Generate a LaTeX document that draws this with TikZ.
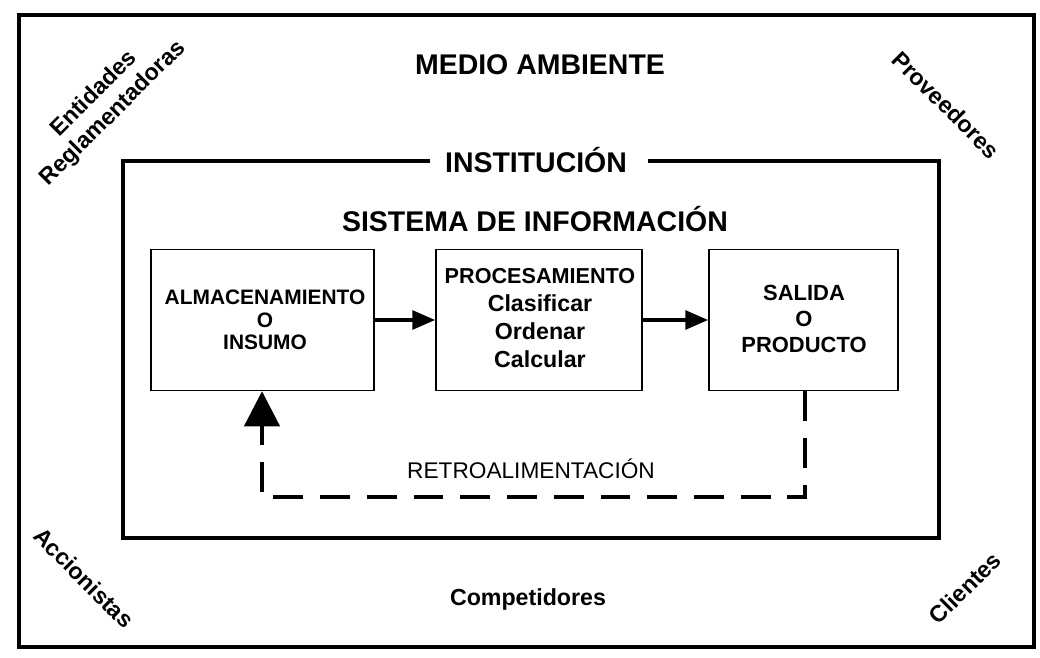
\documentclass[tikz,border=0pt]{standalone}
\usepackage{fontspec}
\setmainfont{Liberation Sans}
\usetikzlibrary{arrows.meta}
\begin{document}
\begin{tikzpicture}[x=0.02cm,y=-0.02cm,
  thickline/.style={line width=2.3pt},
  boxst/.style={draw,line width=0.8pt,minimum width=223*0.02cm,minimum height=141*0.02cm,align=center,inner sep=0pt},
  heading/.style={font=\fontsize{16.2}{19}\selectfont\bfseries},
  corner/.style={font=\fontsize{13.2}{15.3}\selectfont\bfseries,align=center},
  flow/.style={line width=2.3pt,-{Triangle[length=13pt,width=10.5pt]}},
  fb/.style={line width=2.3pt,dash pattern=on 17pt off 9.6pt,-{Triangle[length=20pt,width=20pt]}}
]
\useasboundingbox (0,0) rectangle (1040,658);
\fill[white] (0,0) rectangle (1040,658);
% outer frame
\draw[thickline] (19,15) rectangle (1034,647);
\node[heading] (medio) at (540,65) {MEDIO AMBIENTE};
% institution frame
\node[heading] (inst) at (536,160) {INSTITUCIÓN};
\coordinate (il) at (430,161);
\coordinate (ir) at (648,161);
\draw[thickline,line join=miter] (il) -- (123,161) -- (123,538) -- (939,538) -- (939,161) -- (ir);
\node[heading] (sist) at (535,219) {SISTEMA DE INFORMACIÓN};
% boxes
\node[boxst,minimum width=223*0.02cm] (alm) at (262.5,320) {};
\node[font=\fontsize{11.9}{12.7}\selectfont\bfseries,align=center] (almt) at (265,320) {ALMACENAMIENTO\\O\\INSUMO};
\node[boxst,minimum width=206*0.02cm] (proc) at (539,320) {};
\node[align=center,font=\fontsize{13.2}{15.8}\selectfont\bfseries] (proct) at (540,318) {{\fontsize{12.3}{15.8}\selectfont PROCESAMIENTO}\\Clasificar\\Ordenar\\Calcular};
\node[boxst,minimum width=189*0.02cm] (sal) at (803.5,320) {};
\node[font=\fontsize{12.5}{14.8}\selectfont\bfseries,align=center] (salt) at (804,319) {SALIDA\\O\\PRODUCTO};
% flow arrows
\draw[flow] (alm.east) -- (proc.west);
\draw[flow] (proc.east) -- (sal.west);
% feedback
\coordinate (fb1) at (805,497);
\coordinate (fb2) at (262,497);
\draw[fb] (sal.south -| 805,0) -- (fb1) -- (fb2) -- (alm.south -| 262,0);
\node[font=\fontsize{12.9}{15}\selectfont] (retro) at (531,469) {RETROALIMENTACIÓN};
% corner labels
\node[corner,rotate=45] (ent) at (104,104) {Entidades\\Reglamentadoras};
\node[corner,rotate=-45] (prov) at (946,105) {Proveedores};
\node[corner,rotate=-45] (acc) at (84,578) {Accionistas};
\node[corner,rotate=45] (cli) at (965,588) {Clientes};
\node[corner] (comp) at (528,599) {Competidores};
\end{tikzpicture}
\end{document}
